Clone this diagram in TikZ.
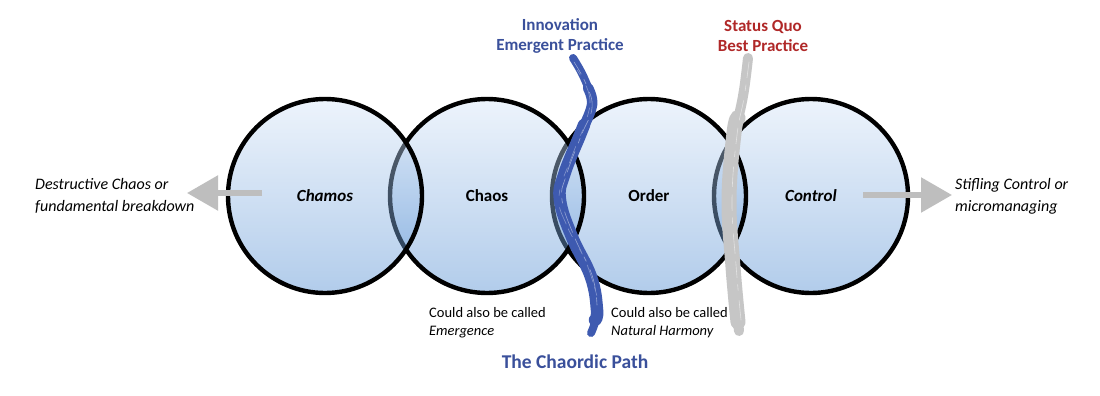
\documentclass[tikz,border=0pt]{standalone}
\usepackage{fontspec}
\setmainfont{Carlito}
\usetikzlibrary{arrows.meta}
\definecolor{ctop}{RGB}{215,230,248}
\definecolor{cmid}{RGB}{115,165,220}
\definecolor{cbot}{RGB}{80,140,210}
\definecolor{gline}{RGB}{190,190,190}
\definecolor{bbrush}{RGB}{62,90,176}
\definecolor{gbrush}{RGB}{198,198,198}
\definecolor{itxt}{RGB}{58,80,155}
\definecolor{stxt}{RGB}{176,40,40}
\tikzset{
  bubble/.style={circle, minimum size=194pt, inner sep=0pt, line width=4.4pt, draw=black,
    top color=ctop, middle color=cmid, bottom color=cbot, fill opacity=0.44, draw opacity=1, text opacity=1,
    font=\fontsize{17}{20}\selectfont\bfseries},
  garrow/.style={draw=gline, line width=5.5pt, -{Triangle[length=31pt,width=34pt]}},
  side/.style={font=\fontsize{16}{22}\selectfont\itshape, inner sep=0pt},
  note/.style={font=\fontsize{14.5}{18.5}\selectfont, align=left, inner sep=0pt, anchor=north west},
  head/.style={font=\fontsize{17}{20.5}\selectfont\bfseries, align=center, inner sep=0pt},
  streak/.style={line width=0.6pt, line cap=round}
}
\begin{document}
\begin{tikzpicture}[x=1pt,y=-1pt]
\useasboundingbox[fill=white] (0,0) rectangle (1100,396);
% circles, right to left so the left one covers the next one's left arc
\node[bubble] (c4) at (811,196) {\itshape Control};
\node[bubble] (c3) at (649,196) {Order};
\node[bubble] (c2) at (487,196) {Chaos};
\node[bubble] (c1) at (325,196) {\itshape Chamos};
% grey arrows
\coordinate (ls) at (262,193);
\coordinate (lt) at (187,193);
\coordinate (rs) at (863,195);
\coordinate (rt) at (952,195);
\draw[garrow] (ls) -- (lt);
\draw[garrow] (rs) -- (rt);
% blue brush stroke
\draw[bbrush, line width=8pt, line cap=round] plot[smooth, tension=0.7] coordinates {(573,58) (585,80) (592,105) (580,135) (564,175) (560,200) (572,237) (591,277) (597,310) (591,333)};
\draw[bbrush, line width=12.5pt, line cap=round] plot[smooth, tension=0.7] coordinates {(584,125) (580,135) (564,175) (560,200) (572,237) (591,277) (597,310) (595,320)};
\draw[bbrush, line width=10.5pt, line cap=round] plot[smooth, tension=0.7] coordinates {(588,88) (592,105) (582,130)};
\draw[streak, white!45!bbrush, dash pattern=on 14pt off 6pt on 5pt off 9pt on 22pt off 7pt] plot[smooth, tension=0.7] coordinates {(574,62) (586,84) (592,108) (581,136) (566,176) (562,200) (574,236) (592,275) (597,305)};
\draw[streak, white!35!bbrush, dash pattern=on 6pt off 12pt on 18pt off 5pt on 9pt off 14pt] plot[smooth, tension=0.7] coordinates {(577,70) (589,94) (587,118) (572,156) (559,196) (567,226) (586,262) (598,300)};
% grey brush stroke
\draw[gbrush, line width=10pt, line cap=round] plot[smooth, tension=0.7] coordinates {(748,58) (744,90) (739,115) (734,133) (729,200) (733,267) (739,331)};
\draw[gbrush, line width=15pt, line cap=round] plot[smooth, tension=0.7] coordinates {(738,118) (734,133) (729,200) (733,267) (738,322)};
\draw[streak, white!50!gbrush, dash pattern=on 16pt off 7pt on 6pt off 10pt on 20pt off 8pt] plot[smooth, tension=0.7] coordinates {(749,62) (744,98) (737,135) (732,200) (736,265) (741,320)};
% texts
\node[side, align=left, anchor=west] (lefttxt) at (35,196) {Destructive Chaos or\\fundamental breakdown};
\node[side, align=left, anchor=west] (righttxt) at (955,196) {Stifling Control or\\micromanaging};
\node[head, text=itxt] (innov) at (560,36) {Innovation\\Emergent Practice};
\node[head, text=stxt] (status) at (763,36) {Status Quo\\Best Practice};
\node[note] (n1) at (429,307) {Could also be called\\\textit{Emergence}};
\node[note] (n2) at (611,307) {Could also be called\\\textit{Natural Harmony}};
\node[font=\fontsize{19.5}{22}\selectfont\bfseries, text=itxt, inner sep=0pt] (path) at (575,362) {The Chaordic Path};
\end{tikzpicture}
\end{document}
